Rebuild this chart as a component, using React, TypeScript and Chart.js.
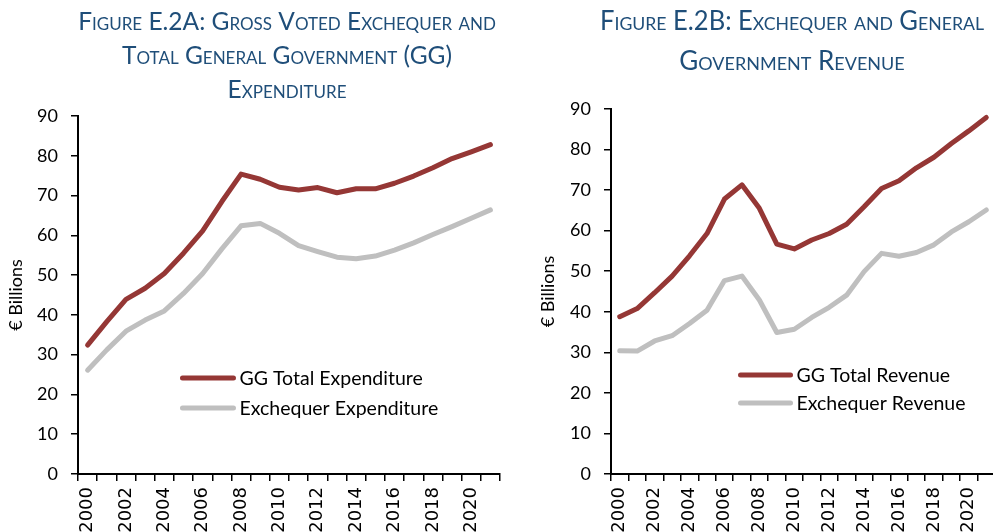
import React, { useEffect, useRef } from 'react';
import { Chart, registerables } from 'chart.js';

Chart.register(...registerables);

// ---- data ----
const years = [
  '2000', '2001', '2002', '2003', '2004', '2005', '2006', '2007', '2008', '2009', '2010',
  '2011', '2012', '2013', '2014', '2015', '2016', '2017', '2018', '2019', '2020', '2021',
];

const ggTotalExpenditure = [
  32.4, 38.3, 43.9, 46.7, 50.4, 55.5, 61.1, 68.5, 75.4, 74.1, 72.1,
  71.4, 72.0, 70.7, 71.7, 71.7, 73.1, 74.9, 77.0, 79.3, 81.0, 82.8,
];
const exchequerExpenditure = [
  26.1, 31.2, 35.9, 38.7, 41.0, 45.4, 50.4, 56.6, 62.4, 63.0, 60.5,
  57.4, 55.9, 54.5, 54.1, 54.8, 56.3, 58.1, 60.2, 62.2, 64.3, 66.4,
];

const ggTotalRevenue = [
  38.8, 40.8, 44.7, 48.8, 53.8, 59.3, 67.8, 71.3, 65.5, 56.7, 55.5,
  57.7, 59.3, 61.6, 65.9, 70.4, 72.3, 75.5, 78.1, 81.5, 84.6, 87.9,
];
const exchequerRevenue = [
  30.4, 30.3, 32.8, 34.1, 37.1, 40.4, 47.7, 48.8, 42.9, 34.9, 35.7,
  38.6, 41.1, 44.1, 49.9, 54.4, 53.7, 54.6, 56.5, 59.7, 62.2, 65.1,
];

const yMin = 0;
const yMax = 90;
const yStep = 10;

const titleA = ['Figure E.2A: Gross Voted Exchequer and', 'Total General Government (GG)', 'Expenditure'];
const titleB = ['Figure E.2B: Exchequer and General', 'Government Revenue'];
const yAxisTitle = '€ Billions';
const legendA = ['GG Total Expenditure', 'Exchequer Expenditure'];
const legendB = ['GG Total Revenue', 'Exchequer Revenue'];

const RED = '#953735';
const GREY = '#BFBFBF';
const TITLE_BLUE = '#1F4E79';

// custom legend drawn inside the plot area
const inlineLegend = {
  id: 'inlineLegend',
  afterDatasetsDraw(chart: any, _args: any, opts: any) {
    const { ctx, chartArea } = chart;
    const x0 = chartArea.left + opts.x * (chartArea.right - chartArea.left);
    let y = chartArea.top + opts.y * (chartArea.bottom - chartArea.top);
    chart.data.datasets.forEach((ds: any) => {
      ctx.save();
      ctx.strokeStyle = ds.borderColor;
      ctx.lineWidth = 5;
      ctx.lineCap = 'round';
      ctx.beginPath();
      ctx.moveTo(x0, y);
      ctx.lineTo(x0 + opts.len, y);
      ctx.stroke();
      ctx.fillStyle = '#000';
      ctx.font = '19.5px Lato';
      ctx.textBaseline = 'middle';
      ctx.textAlign = 'left';
      ctx.fillText(ds.label, x0 + opts.len + opts.gap, y + 1);
      ctx.restore();
      y += opts.spacing;
    });
  },
};

// nudges the title block horizontally after layout
const titleShift = {
  id: 'titleShift',
  afterLayout(chart: any, _args: any, opts: any) {
    const tb = chart.titleBlock;
    if (tb && opts && opts.dx) {
      tb.left += opts.dx;
      tb.right += opts.dx;
    }
  },
};

function makeConfig(p: any) {
  return {
    type: 'line',
    data: {
      labels: years,
      datasets: [
        {
          label: p.labels[0],
          data: p.series[0],
          borderColor: RED,
          backgroundColor: RED,
          borderWidth: 5,
          pointRadius: 0,
          tension: 0,
          borderJoinStyle: 'round',
          borderCapStyle: 'round',
        },
        {
          label: p.labels[1],
          data: p.series[1],
          borderColor: GREY,
          backgroundColor: GREY,
          borderWidth: 5,
          pointRadius: 0,
          tension: 0,
          borderJoinStyle: 'round',
          borderCapStyle: 'round',
        },
      ],
    },
    options: {
      responsive: false,
      animation: false,
      events: [],
      layout: { padding: { top: 0, left: 0, right: p.padRight, bottom: 0 } },
      plugins: {
        legend: { display: false },
        tooltip: { enabled: false },
        title: {
          display: true,
          text: p.title,
          fullSize: false,
          color: TITLE_BLUE,
          font: { family: 'Lato', size: p.titleSize, weight: 'small-caps', lineHeight: p.titleLH },
          padding: p.titlePad,
        },
        inlineLegend: p.legend,
        titleShift: { dx: p.titleDx },
      },
      scales: {
        x: {
          type: 'category',
          offset: true,
          grid: {
            offset: true,
            drawOnChartArea: false,
            drawTicks: true,
            tickLength: 7,
            color: '#000',
            lineWidth: 1.5,
          },
          border: { display: true, color: '#000', width: 2 },
          ticks: {
            autoSkip: false,
            maxRotation: 90,
            minRotation: 90,
            padding: 6,
            color: '#000',
            font: { family: 'DejaVu Sans', size: 18 },
            callback: (_v: any, i: number) => (i % 2 === 0 ? years[i] : ''),
          },
          afterFit: (s: any) => {
            s.height = 66;
            s.paddingLeft = 0;
            s.paddingRight = 0;
          },
        },
        y: {
          min: yMin,
          max: yMax,
          grid: {
            drawOnChartArea: false,
            drawTicks: true,
            tickLength: 7,
            color: '#000',
            lineWidth: 1.5,
          },
          border: { display: true, color: '#000', width: 2 },
          ticks: {
            stepSize: yStep,
            padding: 13,
            color: '#000',
            font: { family: 'Lato', size: 18 },
          },
          title: {
            display: true,
            text: yAxisTitle,
            color: '#000',
            font: { family: 'Lato', size: 18, lineHeight: 1.1 },
            padding: { top: p.yTitlePad, bottom: 0 },
          },
          afterFit: (s: any) => {
            s.width = p.yWidth;
          },
        },
      },
    },
    plugins: [inlineLegend, titleShift],
  };
}

function LineChart(props: any) {
  const ref = useRef<HTMLCanvasElement | null>(null);
  useEffect(() => {
    if (!ref.current) return;
    const chart = new Chart(ref.current, makeConfig(props.cfg) as any);
    return () => chart.destroy();
  }, []);
  return (
    <canvas
      ref={ref}
      width={props.width}
      height={props.height}
      style={{ position: 'absolute', left: props.left, top: 0, width: props.width, height: props.height }}
    />
  );
}

export default function App() {
  const cfgA = {
    title: titleA,
    titleSize: 24.5,
    titleLH: '34px',
    titlePad: { top: 5, bottom: 9 },
    titleDx: -2,
    labels: legendA,
    series: [ggTotalExpenditure, exchequerExpenditure],
    yWidth: 78,
    yTitlePad: 6,
    padRight: 3,
    legend: { x: 0.2476, y: 0.7318, len: 51, gap: 6, spacing: 30 },
  };
  const cfgB = {
    title: titleB,
    titleSize: 26,
    titleLH: '40px',
    titlePad: { top: 2, bottom: 27 },
    titleDx: -11,
    labels: legendB,
    series: [ggTotalRevenue, exchequerRevenue],
    yWidth: 111,
    yTitlePad: 38,
    padRight: 5,
    legend: { x: 0.3373, y: 0.7288, len: 50, gap: 6, spacing: 28 },
  };
  return (
    <div
      style={{
        position: 'fixed',
        left: 0,
        top: 0,
        width: 993,
        height: 532,
        overflow: 'hidden',
        background: '#fff',
      }}
    >
      <LineChart cfg={cfgA} left={0} width={503} height={540} />
      <LineChart cfg={cfgB} left={500} width={500} height={540} />
    </div>
  );
}
